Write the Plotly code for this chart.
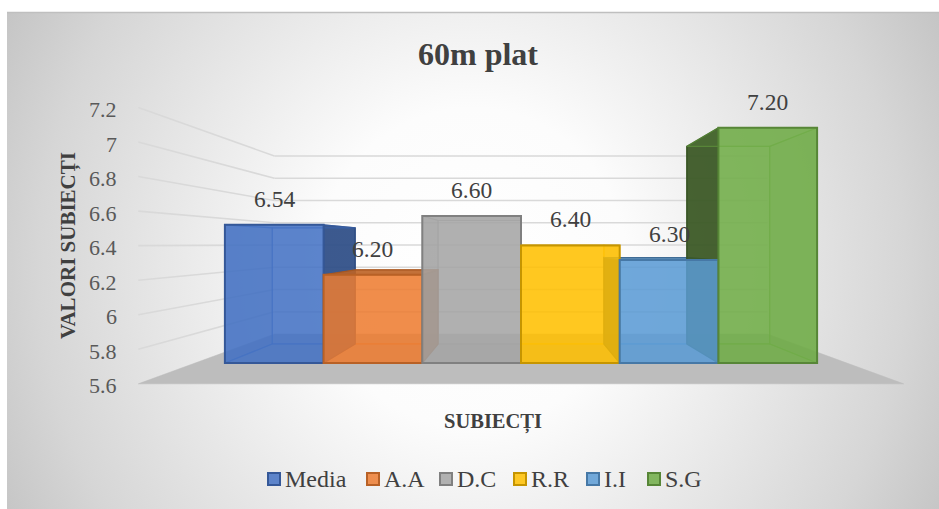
import plotly.graph_objects as go

# ---- data -------------------------------------------------------------
categories = ["Media", "A.A", "D.C", "R.R", "I.I", "S.G"]
values = [6.54, 6.20, 6.60, 6.40, 6.30, 7.20]
y_ticks = [5.6, 5.8, 6.0, 6.2, 6.4, 6.6, 6.8, 7.0, 7.2]
tick_labels = ["5.6", "5.8", "6", "6.2", "6.4", "6.6", "6.8", "7", "7.2"]
bar_colors = ["#4472C4", "#ED7D31", "#A5A5A5", "#FFC000", "#5B9BD5", "#70AD47"]

# ---- canvas / scale ---------------------------------------------------
W, H = 939, 509
BAR_PX = 98.7          # pixels per category slot
UNIT_PX = 147.0        # pixels per value unit on the bar front plane
FLOOR = 5.6            # axis minimum, bars rise from here
VP_PX = (521.0, 244.0) # vanishing point in pixels
BASE_PX_Y = 363.0      # pixel row of FLOOR on the bar front plane

X0 = 2.5 - VP_PX[0] / BAR_PX
X1 = X0 + W / BAR_PX
Y_TOP = FLOOR + BASE_PX_Y / UNIT_PX
Y_BOT = Y_TOP - H / UNIT_PX

VX = 2.5
VY = FLOOR + (BASE_PX_Y - VP_PX[1]) / UNIT_PX

# depth scales of the perspective box
S_BAR_FRONT, S_BAR_BACK = 1.0, 0.84
S_WALL_FRONT, S_WALL_BACK = 1.175, 0.757
U_LEFT, U_RIGHT = -0.80, 5.80


def px_x(px):
    return X0 + px / BAR_PX


def px_y(py):
    return Y_TOP - py / UNIT_PX


def proj(u, v, s):
    return (VX + s * (u - VX), VY + s * (v - VY))


def rgba(hex_color, a, k=1.0):
    h = hex_color.lstrip("#")
    r, g, b = (int(h[i:i + 2], 16) for i in (0, 2, 4))
    r, g, b = (max(0, min(255, int(c * k))) for c in (r, g, b))
    return f"rgba({r},{g},{b},{a})"


fig = go.Figure()


def add_poly(pts, fill, line_color, line_width, z):
    xs = [p[0] for p in pts] + [pts[0][0]]
    ys = [p[1] for p in pts] + [pts[0][1]]
    fig.add_trace(go.Scatter(
        x=xs, y=ys, mode="lines", fill="toself", fillcolor=fill,
        line=dict(color=line_color, width=line_width),
        hoverinfo="skip", showlegend=False, zorder=z))


def add_line(p, q, color, width, z):
    fig.add_trace(go.Scatter(
        x=[p[0], q[0]], y=[p[1], q[1]], mode="lines",
        line=dict(color=color, width=width),
        hoverinfo="skip", showlegend=False, zorder=z))


# ---- background: radial gradient chart area ---------------------------
cx, cy, hw, hh = 472.0, 268.0, 620.0, 640.0
bg = [(px_x(cx - hw), px_y(cy - hh)), (px_x(cx + hw), px_y(cy - hh)),
      (px_x(cx + hw), px_y(cy + hh)), (px_x(cx - hw), px_y(cy + hh))]
fig.add_trace(go.Scatter(
    x=[p[0] for p in bg] + [bg[0][0]], y=[p[1] for p in bg] + [bg[0][1]],
    mode="lines", fill="toself", line=dict(width=0),
    fillgradient=dict(type="radial",
                      colorscale=[[0, "#ffffff"], [0.25, "#fcfcfc"],
                                  [0.7, "#d6d6d6"], [1, "#b4b4b4"]]),
    hoverinfo="skip", showlegend=False, zorder=-5))

# ---- walls: floor, left wall and back wall gridlines --------------------
GRID = "#d9d9d9"
for t in y_ticks[1:]:
    add_line(proj(U_LEFT, t, S_WALL_FRONT), proj(U_LEFT, t, S_WALL_BACK), GRID, 1.6, -4)
    add_line(proj(U_LEFT, t, S_WALL_BACK), proj(U_RIGHT, t, S_WALL_BACK), GRID, 1.6, -4)

add_poly([proj(U_LEFT, FLOOR, S_WALL_FRONT), proj(U_RIGHT, FLOOR, S_WALL_FRONT),
          proj(U_RIGHT, FLOOR, S_WALL_BACK), proj(U_LEFT, FLOOR, S_WALL_BACK)],
         "#bdbdbd", "#bdbdbd", 0.5, -4)

# ---- 3D bar bodies: back, sides, top, bottom ----------------------------
for i, (v, c) in enumerate(zip(values, bar_colors)):
    ul, ur = i - 0.5, i + 0.5
    fb = lambda u, y: proj(u, y, S_BAR_FRONT)
    bb = lambda u, y: proj(u, y, S_BAR_BACK)
    edge_in = rgba(c, 0.55, 0.95)
    # back face
    add_poly([bb(ul, FLOOR), bb(ur, FLOOR), bb(ur, v), bb(ul, v)],
             rgba(c, 0.15), edge_in, 1.2, -3)
    # bottom face (seen through the front)
    add_poly([fb(ul, FLOOR), fb(ur, FLOOR), bb(ur, FLOOR), bb(ul, FLOOR)],
             rgba(c, 0.15, 0.8), edge_in, 1.2, -3)
    # side faces; right-facing sides catch more light than left-facing ones
    for u in (ul, ur):
        outer = (u == ur and ur < VX) or (u == ul and ul > VX)
        shade = 0.68 if u == ur else 0.5
        fill = rgba(c, 0.92, shade) if outer else rgba(c, 0.25, 0.8)
        line = rgba(c, 1.0, shade - 0.05) if outer else edge_in
        add_poly([fb(u, FLOOR), fb(u, v), bb(u, v), bb(u, FLOOR)], fill, line, 1.2,
                 -2 if outer else -3)
    # top face
    top_outer = v < VY
    add_poly([fb(ul, v), fb(ur, v), bb(ur, v), bb(ul, v)],
             rgba(c, 0.9, 0.8) if top_outer else rgba(c, 0.2, 0.8),
             rgba(c, 1.0, 0.7) if top_outer else edge_in, 1.2, -2)

# ---- bar front faces ------------------------------------------------------
for i, (name, v, c) in enumerate(zip(categories, values, bar_colors)):
    fig.add_trace(go.Bar(
        x=[i], y=[v - FLOOR], base=FLOOR, width=1.0, name=name,
        marker=dict(color=rgba(c, 0.85), line=dict(color=rgba(c, 1.0, 0.78), width=2)),
        showlegend=False, hoverinfo="skip", zorder=0))

SERIF = "Liberation Serif"
TXT = "#404040"
annotations = []


def note(**kw):
    kw.setdefault("showarrow", False)
    kw.setdefault("xanchor", "center")
    kw.setdefault("yanchor", "middle")
    annotations.append(kw)


# value labels above each bar
for i, v in enumerate(values):
    note(x=i, y=v, text=f"{v:.2f}", yshift=26,
         font=dict(family=SERIF, size=23.5, color=TXT))

# value axis labels on the front edge of the left wall
for t, lab in zip(y_ticks, tick_labels):
    x, y = proj(U_LEFT, t, S_WALL_FRONT)
    note(x=x, y=y, text=lab, xanchor="right", xshift=-19, yshift=-2,
         font=dict(family=SERIF, size=22, color="#595959"))

# titles
note(x=478 / W, y=1 - 54 / H, xref="paper", yref="paper",
     text="<b>60m plat</b>", font=dict(family=SERIF, size=32, color=TXT))
note(x=68 / W, y=1 - 246 / H, xref="paper", yref="paper",
     text="<b>VALORI SUBIECȚI</b>", textangle=-90,
     font=dict(family=SERIF, size=21, color=TXT))
note(x=493 / W, y=1 - 422 / H, xref="paper", yref="paper",
     text="<b>SUBIECȚI</b>", font=dict(family=SERIF, size=20.5, color=TXT))

# legend
legend_sq_x = [268, 367, 440, 514, 587, 648]
legend_y = 479
shapes = []
for name, c, sx in zip(categories, bar_colors, legend_sq_x):
    shapes.append(dict(type="rect", xref="paper", yref="paper",
                       x0=sx / W, x1=(sx + 12) / W,
                       y0=1 - (legend_y + 6) / H, y1=1 - (legend_y - 6) / H,
                       fillcolor=rgba(c, 0.85), line=dict(color=rgba(c, 1, 0.78), width=2)))
    note(x=(sx + 15) / W, y=1 - legend_y / H, xref="paper", yref="paper",
         text=name, xanchor="left", font=dict(family=SERIF, size=24, color=TXT))

# chart-area frame: white outside strips and top border
shapes.append(dict(type="rect", xref="paper", yref="paper", x0=0, x1=7 / W, y0=0, y1=1,
                   fillcolor="white", line=dict(width=0), layer="above"))
shapes.append(dict(type="rect", xref="paper", yref="paper", x0=0, x1=1, y0=1 - 12 / H, y1=1,
                   fillcolor="white", line=dict(width=0), layer="above"))
shapes.append(dict(type="line", xref="paper", yref="paper", x0=7 / W, x1=1,
                   y0=1 - 12.5 / H, y1=1 - 12.5 / H, line=dict(color="#bfbfbf", width=1.5),
                   layer="above"))

fig.update_layout(
    width=W, height=H, autosize=False,
    margin=dict(l=0, r=0, t=0, b=0, pad=0),
    paper_bgcolor="#d4d4d4", plot_bgcolor="rgba(0,0,0,0)",
    font=dict(family=SERIF),
    xaxis=dict(range=[X0, X1], visible=False, fixedrange=True),
    yaxis=dict(range=[Y_BOT, Y_TOP], visible=False, fixedrange=True),
    barmode="overlay", showlegend=False,
    annotations=annotations, shapes=shapes,
)

fig.write_html("out.html")
